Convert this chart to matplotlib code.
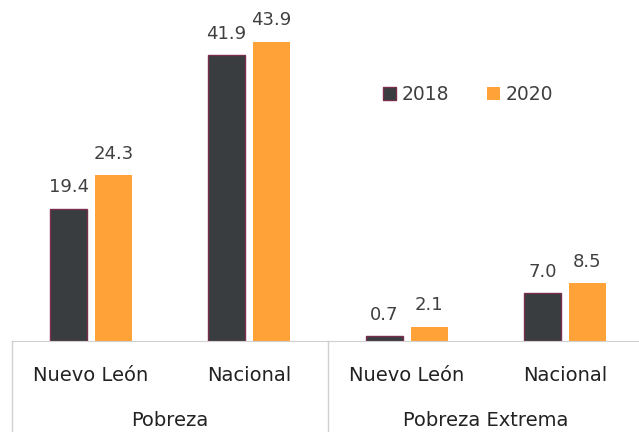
import matplotlib
matplotlib.use("Agg")
import matplotlib.pyplot as plt
import numpy as np

categories = ["Nuevo León", "Nacional", "Nuevo León", "Nacional"]
groups = ["Pobreza", "Pobreza Extrema"]
series_names = ["2018", "2020"]
values_2018 = [19.4, 41.9, 0.7, 7.0]
values_2020 = [24.3, 43.9, 2.1, 8.5]

plt.rcParams['font.family'] = ['DejaVu Sans']
dark = "#3A3D40"
edge = "#7A2E4E"
orange = "#FFA238"
txt = "#404040"
grid = "#D0D0D0"

fig = plt.figure(figsize=(6.39, 4.32), dpi=100)
ax = fig.add_axes([12/639, 91/432, 632/639, 341/432])
x = np.arange(len(categories))
w = 0.23
off = 0.142
b1 = ax.bar(x - off, values_2018, w, color=dark, edgecolor=edge, linewidth=1.0, label=series_names[0])
b2 = ax.bar(x + off, values_2020, w, color=orange, edgecolor=orange, linewidth=0, label=series_names[1])
for bars in (b1, b2):
    for r in bars:
        ax.annotate(f"{r.get_height():.1f}", (r.get_x() + r.get_width()/2, r.get_height()),
                    xytext=(0, 9), textcoords="offset points", ha="center", va="bottom",
                    fontsize=13, color=txt)

ax.set_xlim(-0.5, 3.5)
ax.set_ylim(0, 50)
for s in ["top", "right", "left"]:
    ax.spines[s].set_visible(False)
ax.spines["bottom"].set_color(grid)
ax.set_yticks([])
ax.set_xticks(x)
ax.set_xticklabels(categories, fontsize=14, color="#222222")
ax.tick_params(axis="x", length=0, pad=18)

trans = ax.get_xaxis_transform()
for xv in [-0.5, 1.5, 3.5]:
    ax.plot([xv, xv], [0, -0.3], color=grid, lw=1.0, transform=trans, clip_on=False)
for gi, g in enumerate(groups):
    ax.text(0.5 + 2*gi, -0.233, g, transform=trans, ha="center", va="center",
            fontsize=14, color="#222222")

leg = ax.legend(loc="upper left", bbox_to_anchor=(0.56, 0.80), ncol=2, frameon=False,
                fontsize=13.5, handlelength=0.7, handleheight=0.7, handletextpad=0.3,
                columnspacing=2.0, labelcolor=txt)
fig.savefig("out.png", dpi=100)
